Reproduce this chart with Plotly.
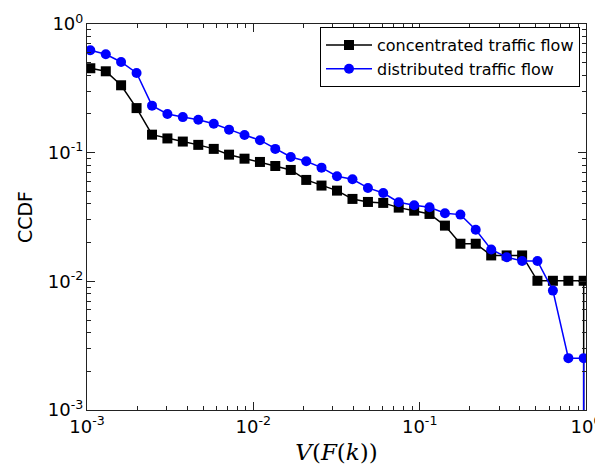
import plotly.graph_objects as go

# x positions (V(F(k)))
v_values = [0.001047, 0.001297, 0.001603, 0.001986, 0.002460, 0.003044, 0.003767,
            0.004667, 0.005781, 0.007145, 0.008851, 0.01096, 0.01355, 0.01679,
            0.02080, 0.02570, 0.03184, 0.03945, 0.04887, 0.06039, 0.07482,
            0.09268, 0.1146, 0.1419, 0.1758, 0.2173, 0.2692, 0.3334, 0.4130,
            0.5105, 0.6324, 0.7834, 0.9683, 0.9683]

# last entry is the drop to zero (plotted as a vanishing value on the log axis)
concentrated = [0.453, 0.429, 0.334, 0.222, 0.138, 0.129, 0.122, 0.115, 0.107,
                0.0965, 0.0898, 0.0847, 0.0788, 0.0734, 0.0614, 0.0555, 0.0507,
                0.0437, 0.0414, 0.0407, 0.0374, 0.0354, 0.0334, 0.0271, 0.0196,
                0.0196, 0.0159, 0.0159, 0.0159, 0.0101, 0.0101, 0.0101, 0.0101,
                1e-12]

distributed = [0.625, 0.582, 0.507, 0.416, 0.232, 0.200, 0.189, 0.180, 0.168,
               0.151, 0.137, 0.125, 0.107, 0.0926, 0.0858, 0.0765, 0.0656,
               0.0621, 0.0532, 0.0486, 0.0412, 0.0390, 0.0376, 0.0338, 0.0330,
               0.0252, 0.0177, 0.0154, 0.0144, 0.0144, 0.00847, 0.00253, 0.00253,
               1e-12]

series_names = ["concentrated traffic flow", "distributed traffic flow"]

tick_vals = [1e-3, 1e-2, 1e-1, 1]
tick_text = ["10<sup>-3</sup>", "10<sup>-2</sup>", "10<sup>-1</sup>", "10<sup>0</sup>"]
minor_multipliers = [2, 3, 4, 5, 6, 7, 8, 9]
minor_vals = [m * d for d in tick_vals[:-1] for m in minor_multipliers]

fig = go.Figure()
fig.add_trace(go.Scatter(
    x=v_values, y=concentrated, name=series_names[0], mode="lines+markers",
    line=dict(color="black", width=1.5),
    marker=dict(symbol="square", size=10, color="black"),
))
fig.add_trace(go.Scatter(
    x=v_values, y=distributed, name=series_names[1], mode="lines+markers",
    line=dict(color="#0000ff", width=1.5),
    marker=dict(symbol="circle", size=10, color="#0000ff"),
))

axis_common = dict(
    type="log", showgrid=False, zeroline=False, automargin=False,
    showline=True, linecolor="#222222", linewidth=1.2, mirror="allticks",
    ticks="inside", ticklen=8, tickwidth=1, tickcolor="#222222",
    tickmode="array", tickvals=tick_vals, ticktext=tick_text,
    tickfont=dict(family="DejaVu Sans", size=18, color="black"),
    minor=dict(tickmode="array", tickvals=minor_vals, ticks="inside", ticklen=4,
               tickwidth=1, tickcolor="#222222", showgrid=False),
)

fig.update_xaxes(**axis_common, range=[-3, 0],
                 title=dict(text="<i>V</i>(<i>F</i>(<i>k</i>))",
                            font=dict(family="DejaVu Serif", size=23, color="black"),
                            standoff=8))
fig.update_yaxes(**axis_common, range=[-3, 0], ticklabelstandoff=-1,
                 title=dict(text="CCDF", font=dict(family="DejaVu Sans", size=19, color="black"),
                            standoff=10))

# The page body adds an 8px offset, so the figure is 8px smaller and margins shifted
fig.update_layout(
    width=595, height=458,
    margin=dict(l=79, r=17, t=16, b=56),
    paper_bgcolor="white", plot_bgcolor="white",
    font=dict(family="DejaVu Sans", color="black"),
    legend=dict(x=0.988, y=0.992, xanchor="right", yanchor="top",
                bgcolor="white", bordercolor="black", borderwidth=1,
                font=dict(family="DejaVu Sans", size=16, color="black"),
                itemwidth=46, tracegroupgap=0),
    showlegend=True,
)

fig.write_html("out.html")
